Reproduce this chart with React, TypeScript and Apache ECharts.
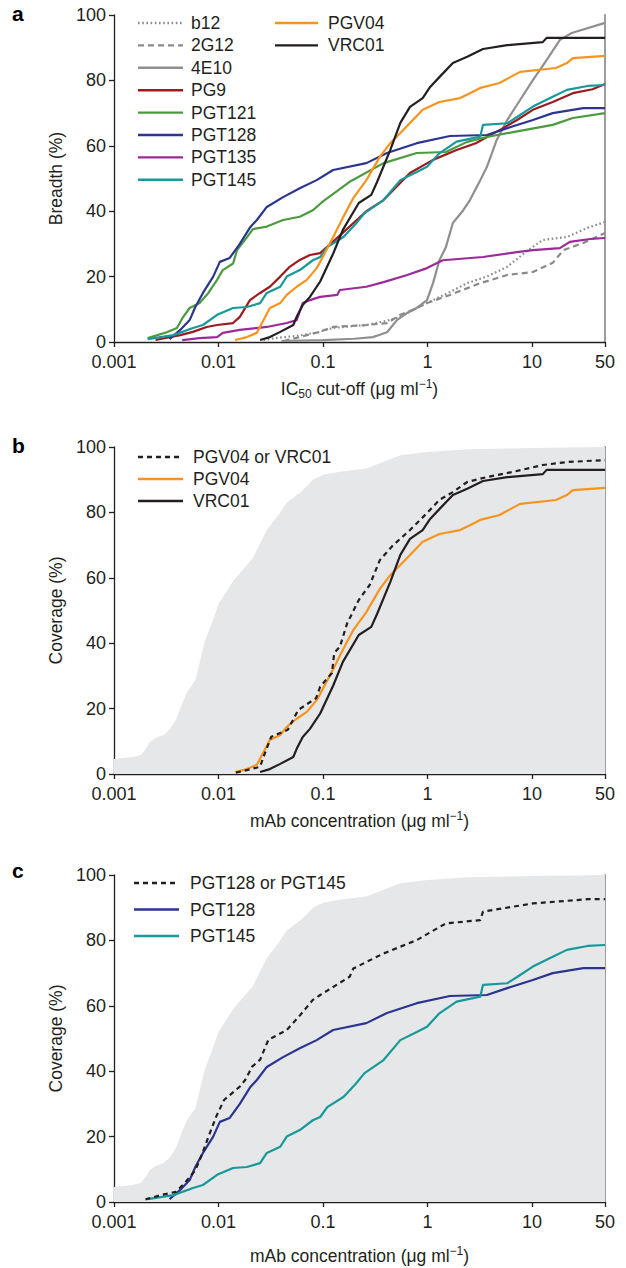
import React, { useEffect, useRef } from "react";
import * as echarts from "echarts";

// ---------- DATA (x: µg/ml, y: %) ----------
const yTicks = [0, 20, 40, 60, 80, 100];
const xRange = [0.001, 50];
const panelLetters = ["a", "b", "c"];
const yTitles = ["Breadth (%)", "Coverage (%)", "Coverage (%)"];

const b12 = [[0.027,0.6],[0.035,1.2],[0.06,2],[0.09,3],[0.125,4.3],[0.26,5.2],[0.41,6.5],[0.55,7.7],[0.79,10.4],[1.13,12.8],[1.64,15.3],[2.4,18],[3.7,20],[5.8,23],[9.1,28],[12.7,31.2],[21.6,32.1],[34,34.9],[50,36.7]];
const g2G12 = [[0.042,0.3],[0.06,1.5],[0.09,3],[0.125,4.6],[0.26,5.2],[0.41,5.8],[0.55,8.3],[0.79,10.4],[0.99,11.9],[1.64,14.4],[3.2,18],[5.8,20.5],[10.2,21.4],[15.8,24.2],[20,28.1],[31,30.3],[50,33.3]];
const e4E10 = [[0.04,0.3],[0.1,0.6],[0.2,1],[0.3,1.5],[0.35,2.2],[0.41,3],[0.51,6.7],[0.64,8.9],[0.79,10.4],[0.99,12.8],[1.13,18],[1.3,25],[1.5,29],[1.75,36.4],[2.2,40.3],[2.55,43.4],[3.2,49.5],[3.7,53.5],[4.6,61.8],[5.8,67.9],[7.7,74],[10.2,80.1],[13.8,86.2],[18.5,92.4],[24,94.5],[50,97.6]];
const pg9 = [[0.0025,0.6],[0.0043,2.1],[0.0057,3.1],[0.0077,4.6],[0.0097,5.2],[0.0138,5.8],[0.016,7.7],[0.02,12.8],[0.025,15],[0.031,16.9],[0.039,20],[0.048,23],[0.06,25.1],[0.075,26.6],[0.094,27.2],[0.15,33],[0.26,40],[0.38,43.4],[0.68,51.7],[1.13,55.7],[1.9,58.7],[2.9,60.8],[4.9,64.8],[7.2,67.9],[10.2,71],[15.8,73.4],[24.6,76.1],[38,77.3],[50,78.9]];
const pgt121 = [[0.0021,1.2],[0.0032,3],[0.004,4.3],[0.0046,7.7],[0.0053,10.4],[0.0066,11.9],[0.008,15],[0.0097,19],[0.011,22],[0.0138,24],[0.015,28],[0.0187,32],[0.0213,34.5],[0.029,35.3],[0.0415,37.3],[0.06,38.3],[0.08,40.3],[0.1,43],[0.18,49],[0.38,54.7],[0.79,57.8],[1.5,58.1],[2.4,61.2],[3.7,62.7],[6.6,64.2],[15.8,66.4],[24.6,68.5],[50,70]];
const pgt128 = [[0.0034,0.9],[0.0043,3.7],[0.0053,6.7],[0.006,10.7],[0.0071,15],[0.0089,20],[0.0103,24.5],[0.0128,25.7],[0.016,30],[0.02,35],[0.0233,37.3],[0.029,41.3],[0.0415,44.3],[0.06,47],[0.087,49.5],[0.125,52.6],[0.26,54.7],[0.41,57.8],[0.79,60.8],[1.64,63],[3.7,63.3],[5.8,65.4],[10.2,67.9],[15.8,70],[31,71.5],[50,71.5]];
const pgt135 = [[0.0045,0.6],[0.0066,1.2],[0.0097,1.5],[0.011,2.8],[0.016,3.7],[0.029,4.6],[0.045,5.8],[0.056,6.7],[0.064,11.9],[0.075,12.8],[0.094,13.8],[0.137,14.4],[0.145,15.9],[0.26,16.9],[0.38,18.3],[0.64,20.5],[0.99,22.6],[1.4,25],[3.4,26],[7.2,27.5],[10.2,28.1],[18.5,28.7],[23,30.6],[36,31.5],[50,31.8]];
const pgt145 = [[0.0021,0.9],[0.0037,2.1],[0.0057,4.3],[0.0071,5.2],[0.0097,8.3],[0.0138,10.4],[0.0187,10.7],[0.025,11.9],[0.029,15],[0.039,16.9],[0.045,20],[0.06,22],[0.08,25],[0.094,26],[0.11,29],[0.158,32.2],[0.208,36.3],[0.25,39.4],[0.38,43.4],[0.55,49.5],[0.79,52],[0.99,53.6],[1.3,57.7],[1.9,61.3],[3.2,62.8],[3.4,66.4],[5.8,66.9],[7.2,68.8],[10.2,72],[15.8,75],[21.6,77.1],[34,78.3],[50,78.6]];
const pgv04 = [[0.0144,0.6],[0.0187,1.5],[0.0233,2.8],[0.027,6.7],[0.031,10.4],[0.039,11.9],[0.045,14.4],[0.056,16.9],[0.07,19],[0.087,22.6],[0.094,24.5],[0.125,32],[0.155,38],[0.195,44],[0.26,49.5],[0.35,56.6],[0.44,60.8],[0.55,63.9],[0.68,67],[0.9,71],[1.3,73.4],[2.05,74.6],[2.55,76.1],[3.2,77.7],[4.9,79.2],[6.2,81],[7.7,82.6],[17,83.8],[21.6,85.3],[24.6,86.8],[50,87.5]];
const vrc01 = [[0.025,0.6],[0.031,1.5],[0.039,3.1],[0.052,5.2],[0.056,7.7],[0.064,11.3],[0.075,13.8],[0.094,18.5],[0.125,27],[0.155,34.3],[0.22,42.5],[0.29,45],[0.33,49],[0.44,58.7],[0.55,67],[0.68,71.9],[0.9,74.6],[1.06,78],[1.3,81],[1.75,85.3],[2.4,87.2],[3.4,89.6],[5.8,90.8],[12.7,91.7],[13.8,93],[50,93]];
const pgv04OrVrc01 = [[0.0147,0.4],[0.025,2.2],[0.027,5.3],[0.032,11.4],[0.046,13.5],[0.058,19.6],[0.086,23.2],[0.094,26.7],[0.122,30.9],[0.128,37],[0.145,38.9],[0.17,46],[0.22,53.2],[0.28,57.8],[0.35,65.4],[0.47,70],[0.68,74.6],[0.99,79.8],[1.3,83.8],[1.75,86.2],[2.4,89.3],[3.7,90.8],[6.6,92.4],[12.7,94.5],[21.6,95.4],[50,96]];
const pgt128OrPgt145 = [[0.002,0.8],[0.0028,2.1],[0.0039,3.1],[0.0047,5.6],[0.006,9.7],[0.007,14.8],[0.008,19.9],[0.0095,26.1],[0.0113,31.2],[0.016,35.3],[0.018,37.3],[0.021,41.4],[0.025,43.5],[0.03,49.6],[0.045,52.6],[0.06,57],[0.08,61.8],[0.094,63.3],[0.18,68.9],[0.195,71.4],[0.38,76],[0.79,80.1],[1.5,85.2],[3.2,86.2],[3.4,88.8],[10.2,91.3],[34,92.6],[50,92.6]];
const bestCoverage = [[0.001,4.6],[0.0015,5.2],[0.0018,5.8],[0.002,7.5],[0.0022,9.8],[0.0025,11],[0.003,12],[0.0034,13.5],[0.0039,16.5],[0.0042,19],[0.0045,21.7],[0.005,25],[0.006,28.7],[0.0066,34],[0.0073,40],[0.0086,46],[0.01,52],[0.0138,59],[0.0213,66],[0.029,74.6],[0.037,79],[0.045,83],[0.06,86],[0.07,88],[0.08,90],[0.1,91.5],[0.15,92.5],[0.26,93.4],[0.35,95],[0.55,97.5],[1,98.5],[2.4,99.3],[10,99.7],[50,100]];

const panelA = ["b12","2G12","4E10","PG9","PGT121","PGT128","PGT135","PGT145","PGV04","VRC01"];
const panelAData = [b12, g2G12, e4E10, pg9, pgt121, pgt128, pgt135, pgt145, pgv04, vrc01];
const panelB = ["PGV04 or VRC01","PGV04","VRC01"];
const panelBData = [pgv04OrVrc01, pgv04, vrc01];
const panelC = ["PGT128 or PGT145","PGT128","PGT145"];
const panelCData = [pgt128OrPgt145, pgt128, pgt145];

// ---------- STYLES ----------
const INK = "#231f20";
const FONT = "'Liberation Sans', Arial, Helvetica, sans-serif";
const STY: Record<string, { color: string; dash?: number[]; width?: number }> = {
  "b12": { color: "#8a8a8a", dash: [1.6, 2.6] },
  "2G12": { color: "#8a8a8a", dash: [6, 4] },
  "4E10": { color: "#8f8f8f" },
  "PG9": { color: "#9b1b20" },
  "PGT121": { color: "#4c9a3e" },
  "PGT128": { color: "#2b3590" },
  "PGT135": { color: "#9a2b98" },
  "PGT145": { color: "#17999a" },
  "PGV04": { color: "#f7941d" },
  "VRC01": { color: INK },
  "PGV04 or VRC01": { color: INK, dash: [5, 4] },
  "PGT128 or PGT145": { color: INK, dash: [5, 4] },
};

const tops = [15, 447, 875];
const PLOT_H = 327;
const LEFT = 114;
const PLOT_W = 491;

function fmtX(v: number) {
  if (v >= 1) return String(Math.round(v));
  return String(Number(v.toPrecision(1)));
}

export default function App() {
  const ref = useRef<HTMLDivElement>(null);
  useEffect(() => {
    document.body.style.margin = "0";
    if (!ref.current) return;
    const chart = echarts.init(ref.current, null, { renderer: "svg" });

    const xNames = [
      "IC{sub|50} cut-off (μg ml{sup|−1})",
      "mAb concentration (μg ml{sup|−1})",
      "mAb concentration (μg ml{sup|−1})",
    ];
    const xNameGaps = [36, 36, 43];

    const grid = tops.map((t) => ({ left: LEFT, top: t, width: PLOT_W, height: PLOT_H }));
    const xAxis = tops.map((_, i) => ({
      type: "log",
      logBase: 10,
      gridIndex: i,
      min: xRange[0],
      max: xRange[1],
      axisLine: { onZero: false, lineStyle: { color: INK, width: 1.3 } },
      axisTick: { show: true, length: 5, lineStyle: { color: INK, width: 1.3 } },
      minorTick: { show: false },
      splitLine: { show: false },
      axisLabel: { fontSize: 18, color: INK, margin: 11, fontFamily: FONT, formatter: (v: number) => fmtX(v) },
      name: xNames[i],
      nameLocation: "middle",
      nameGap: xNameGaps[i],
      nameTextStyle: {
        fontSize: 17.5,
        color: INK,
        fontFamily: FONT,
        lineHeight: 22,
        rich: {
          sub: { fontSize: 12, verticalAlign: "bottom", lineHeight: 12, color: INK, fontFamily: FONT },
          sup: { fontSize: 12, verticalAlign: "top", lineHeight: 12, color: INK, fontFamily: FONT },
        },
      },
    }));
    const yAxis: any[] = [];
    tops.forEach((_, i) => {
      yAxis.push({
        type: "value",
        gridIndex: i,
        min: yTicks[0],
        max: yTicks[yTicks.length - 1],
        interval: 20,
        axisLine: { show: true, onZero: false, lineStyle: { color: INK, width: 1.3 } },
        axisTick: { show: true, length: 5, lineStyle: { color: INK, width: 1.3 } },
        splitLine: { show: false },
        axisLabel: { fontSize: 18, color: INK, margin: 8, fontFamily: FONT },
        name: yTitles[i],
        nameLocation: "middle",
        nameGap: 44,
        nameTextStyle: { fontSize: 17.5, color: INK, fontFamily: FONT },
      });
      yAxis.push({
        type: "value",
        gridIndex: i,
        position: "right",
        min: 0,
        max: 100,
        axisLine: { show: true, onZero: false, lineStyle: { color: "#9d9d9d", width: 2 } },
        axisTick: { show: false },
        axisLabel: { show: false },
        splitLine: { show: false },
      });
    });

    const lineSeries = (name: string, data: number[][], gi: number, z = 3) => {
      const s = STY[name];
      return {
        type: "line",
        name,
        xAxisIndex: gi,
        yAxisIndex: gi * 2,
        data,
        showSymbol: false,
        symbol: "none",
        z,
        lineStyle: { color: s.color, width: 2.2, type: s.dash ? s.dash : "solid", cap: "butt" },
      };
    };
    const areaSeries = (gi: number) => ({
      type: "line",
      name: "best",
      xAxisIndex: gi,
      yAxisIndex: gi * 2,
      data: bestCoverage,
      showSymbol: false,
      symbol: "none",
      z: 1,
      lineStyle: { width: 0, color: "#e6e7e8" },
      areaStyle: { color: "#e6e7e8", opacity: 1 },
    });

    const series: any[] = [];
    panelA.forEach((n, k) => series.push(lineSeries(n, panelAData[k], 0)));
    series.push(areaSeries(1));
    [1, 2, 0].forEach((k) => series.push(lineSeries(panelB[k], panelBData[k], 1)));
    series.push(areaSeries(2));
    [1, 2, 0].forEach((k) => series.push(lineSeries(panelC[k], panelCData[k], 2)));

    // legends
    const graphic: any[] = [];
    const legendEntry = (name: string, x1: number, x2: number, tx: number, y: number) => {
      const s = STY[name];
      graphic.push({
        type: "line",
        shape: { x1, y1: y, x2, y2: y },
        style: { stroke: s.color, lineWidth: 2.4, lineDash: s.dash || null },
      });
      graphic.push({
        type: "text",
        x: tx,
        y,
        style: { text: name, fill: INK, font: `17.5px ${FONT}`, verticalAlign: "middle", align: "left" },
      });
    };
    panelA.slice(0, 8).forEach((n, k) => legendEntry(n, 138, 183, 191, 23 + k * 22.4));
    panelA.slice(8).forEach((n, k) => legendEntry(n, 275, 318, 328, 23 + k * 22.4));
    panelB.forEach((n, k) => legendEntry(n, 138, 183, 193, 457 + k * 22));
    panelC.forEach((n, k) => legendEntry(n, 134, 179, 190, 883 + k * 26.5));
    const letterY = [13, 445, 870];
    panelLetters.forEach((l, i) =>
      graphic.push({
        type: "text",
        x: 12,
        y: letterY[i],
        style: { text: l, fill: "#000", font: `bold 21px ${FONT}`, verticalAlign: "middle", align: "left" },
      })
    );

    chart.setOption({
      animation: false,
      textStyle: { fontFamily: FONT },
      grid,
      xAxis,
      yAxis,
      series,
      graphic,
    });
    return () => chart.dispose();
  }, []);
  return <div ref={ref} style={{ position: "absolute", left: 0, top: 0, width: 626, height: 1268, background: "#fff" }} />;
}
